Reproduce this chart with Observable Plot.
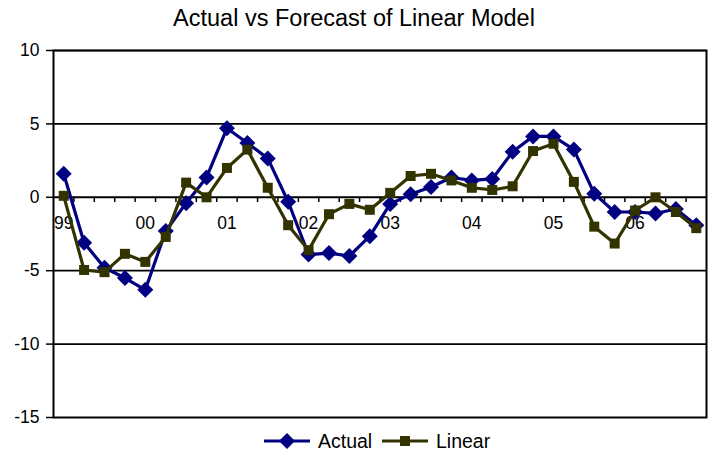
<!DOCTYPE html>
<html><head><meta charset="utf-8">
<script src="https://cdn.jsdelivr.net/npm/d3@7"></script>
<script src="https://cdn.jsdelivr.net/npm/@observablehq/plot@0.6"></script>
<style>
body{margin:0;background:#fff;font-family:"Liberation Sans",Arial,sans-serif;}
#wrap{position:relative;width:708px;height:456px;overflow:hidden;}
#title{position:absolute;top:5px;left:0;width:708px;text-align:center;font-size:23.5px;color:#000;}
#legend{position:absolute;top:426px;left:0;}
</style></head><body>
<div id="wrap"><div id="chart"></div><div id="title">Actual vs Forecast of Linear Model</div><svg id="legend" width="708" height="30"></svg></div>
<script>
const quarters = ["1999Q1","1999Q2","1999Q3","1999Q4","2000Q1","2000Q2","2000Q3","2000Q4",
  "2001Q1","2001Q2","2001Q3","2001Q4","2002Q1","2002Q2","2002Q3","2002Q4",
  "2003Q1","2003Q2","2003Q3","2003Q4","2004Q1","2004Q2","2004Q3","2004Q4",
  "2005Q1","2005Q2","2005Q3","2005Q4","2006Q1","2006Q2","2006Q3","2006Q4"];
const actual = [1.6,-3.1,-4.8,-5.5,-6.3,-2.3,-0.4,1.35,4.7,3.7,2.65,-0.3,-3.9,-3.8,-4.0,-2.65,
  -0.45,0.2,0.7,1.35,1.15,1.25,3.1,4.15,4.15,3.25,0.25,-1.0,-1.0,-1.1,-0.8,-1.9];
const linear = [0.1,-4.95,-5.1,-3.85,-4.4,-2.7,1.0,0.0,2.0,3.25,0.65,-1.9,-3.6,-1.15,-0.45,-0.85,
  0.3,1.45,1.6,1.15,0.65,0.5,0.75,3.15,3.65,1.05,-2.0,-3.15,-0.9,0.0,-1.0,-2.1];
const yearLabels = ["99","00","01","02","03","04","05","06"];
const yearQuarters = ["1999Q1","2000Q1","2001Q1","2002Q1","2003Q1","2004Q1","2005Q1","2006Q1"];
const yTicks = [-15,-10,-5,0,5,10];
const seriesNames = ["Actual","Linear"];
const seriesColors = ["#000080","#333300"];

const rows = quarters.map((q,i)=>({q, i, actual: actual[i], linear: linear[i]}));
const diamond = {draw(ctx, size){const r=Math.sqrt(size/Math.PI); ctx.moveTo(0,-r); ctx.lineTo(r,0); ctx.lineTo(0,r); ctx.lineTo(-r,0); ctx.closePath();}};
const square = {draw(ctx, size){const r=Math.sqrt(size/Math.PI); ctx.rect(-r,-r,2*r,2*r);}};
const boundaries = d3.range(1, quarters.length);

const chart = Plot.plot({
  width: 708, height: 456,
  marginTop: 50, marginBottom: 39, marginLeft: 53, marginRight: 2,
  style: {fontFamily: '"Liberation Sans", Arial, sans-serif', fontSize: "17.5px", color: "#000", background: "#fff"},
  x: {type: "linear", domain: [0, quarters.length], axis: null},
  y: {domain: [-15, 10], ticks: yTicks, tickSize: 7, tickPadding: 7, tickFormat: d => String(d), label: null},
  marks: [
    Plot.ruleY(yTicks.filter(d => d > -15 && d !== 0), {stroke: "#000", strokeWidth: 1.7}),
    Plot.ruleY([0], {stroke: "#000", strokeWidth: 2}),
    Plot.ruleX(boundaries, {x: d => d, y1: 0, y2: -0.36, stroke: "#000", strokeWidth: 1.5}),
    Plot.text(yearLabels, {x: (d,i) => quarters.indexOf(yearQuarters[i]) + 0.5, y: 0, dy: 26, text: d => d, fill: "#000"}),
    Plot.line(rows, {x: d => d.i + 0.5, y: "actual", stroke: seriesColors[0], strokeWidth: 3.2}),
    Plot.dot(rows, {x: d => d.i + 0.5, y: "actual", symbol: diamond, r: 8, fill: seriesColors[0], stroke: "none"}),
    Plot.line(rows, {x: d => d.i + 0.5, y: "linear", stroke: seriesColors[1], strokeWidth: 3.2}),
    Plot.dot(rows, {x: d => d.i + 0.5, y: "linear", symbol: square, r: 5, fill: seriesColors[1], stroke: "none"}),
    Plot.frame({stroke: "#000", strokeWidth: 2}),
    Plot.axisY({ticks: yTicks, tickSize: 7, tickPadding: 7, tickFormat: d => String(d), label: null, strokeWidth: 1.5})
  ]
});
document.getElementById("chart").appendChild(chart);

// legend
const lg = d3.select("#legend");
const items = [{name: seriesNames[0], color: seriesColors[0], x: 264, sym: "d"}, {name: seriesNames[1], color: seriesColors[1], x: 382, sym: "s"}];
const cy = 15;
items.forEach(it => {
  lg.append("line").attr("x1", it.x).attr("x2", it.x + 46).attr("y1", cy).attr("y2", cy).attr("stroke", it.color).attr("stroke-width", 3.2);
  const cx = it.x + 23;
  if (it.sym === "d") lg.append("path").attr("d", `M${cx},${cy-8}L${cx+8},${cy}L${cx},${cy+8}L${cx-8},${cy}Z`).attr("fill", it.color);
  else lg.append("rect").attr("x", cx-5).attr("y", cy-5).attr("width", 10).attr("height", 10).attr("fill", it.color);
  lg.append("text").attr("x", it.x + 54).attr("y", cy).attr("dy", "0.35em").attr("font-size", "19.5px").attr("font-family", '"Liberation Sans", Arial, sans-serif').text(it.name);
});
</script></body></html>
